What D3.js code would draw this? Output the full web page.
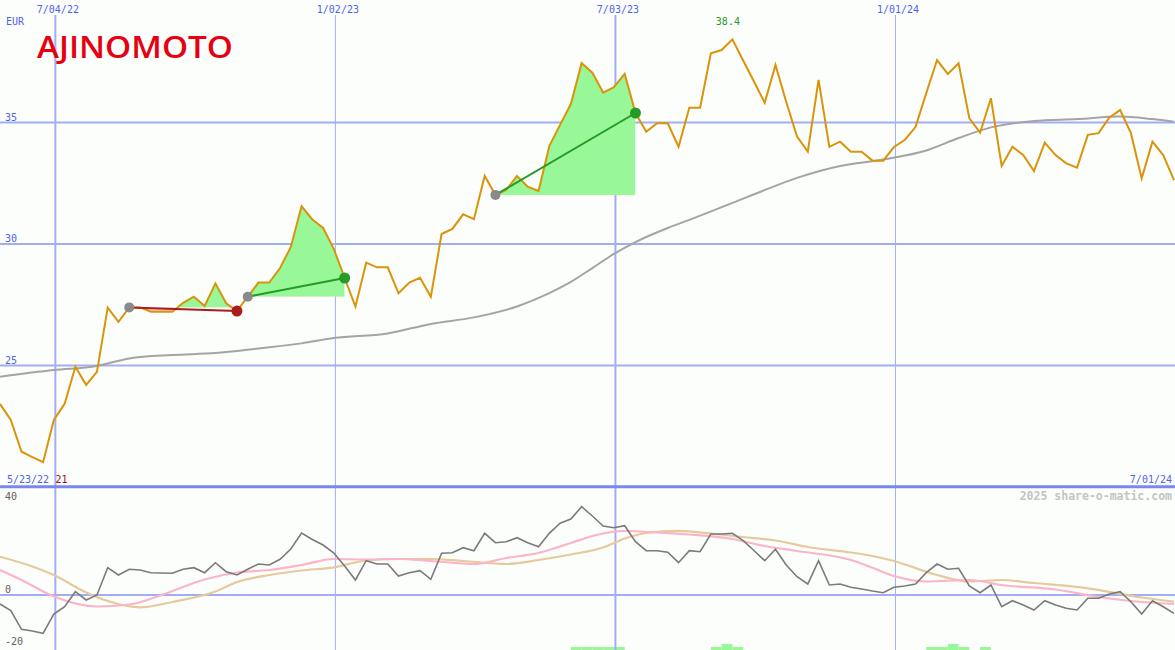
<!DOCTYPE html>
<html><head><meta charset="utf-8">
<script src="https://cdn.jsdelivr.net/npm/d3@7"></script>
<style>
html,body{margin:0;padding:0;background:#fcfefc;}
svg{display:block;}
text{font-family:"DejaVu Sans Mono",monospace;}
</style></head><body>
<svg id="c" width="1175" height="650"></svg>
<script>
// ---------- data ----------
const startDate = "2022-05-30";
const endDate = "2024-07-01";
const price = [
23.40, 22.74, 21.43, 21.21, 21.00, 22.74, 23.40, 24.93, 24.18, 24.72,
27.36, 26.78, 27.37, 27.37, 27.19, 27.19, 27.19, 27.56, 27.81, 27.43,
28.36, 27.54, 27.22, 27.81, 28.39, 28.39, 28.99, 29.86, 31.54, 30.99,
30.64, 29.77, 28.58, 27.40, 29.21, 29.02, 29.02, 27.95, 28.39, 28.59,
27.81, 30.39, 30.60, 31.20, 31.00, 32.78, 32.00, 32.20, 32.78, 32.34,
32.16, 34.01, 34.88, 35.74, 37.42, 37.03, 36.21, 36.43, 36.98, 35.37,
34.60, 34.95, 34.95, 33.98, 35.59, 35.59, 37.83, 37.96, 38.40, 37.53,
36.67, 35.79, 37.35, 35.82, 34.40, 33.78, 36.73, 33.98, 34.19, 33.78,
33.78, 33.41, 33.41, 33.97, 34.26, 34.79, 36.19, 37.55, 36.98, 37.42,
35.15, 34.56, 35.98, 33.19, 33.98, 33.64, 32.98, 34.15, 33.64, 33.30,
33.12, 34.47, 34.54, 35.19, 35.49, 34.54, 32.68, 34.19, 33.64, 32.61
];
const maWeek = [0,5,9,12,16,20,24,28,31,36,40,44,48,51,53,55,57,59,62,64,68,71,74,78,82,86,89,92,96,100,104,107,109];
const maValue = [24.52,24.79,24.96,25.27,25.41,25.49,25.68,25.89,26.11,26.30,26.69,26.96,27.41,27.96,28.42,28.99,29.57,30.06,30.64,30.97,31.67,32.20,32.70,33.19,33.46,33.83,34.34,34.78,35.04,35.12,35.23,35.12,35.01];

const oscValue = [
-3.63, -6.18, -13.28, -13.93, -14.81, -7.44, -4.66, 1.07, -2.10, -0.19,
10.23, 7.44, 9.62, 9.35, 8.32, 8.21, 8.09, 9.62, 10.23, 8.32,
12.14, 8.70, 7.44, 9.62, 11.64, 11.26, 13.44, 17.37, 23.47, 20.99,
18.89, 15.84, 10.88, 5.53, 12.90, 11.64, 11.64, 7.06, 8.32, 9.08,
5.80, 15.73, 15.95, 17.86, 16.72, 23.36, 19.77, 20.15, 21.68, 19.77,
18.24, 23.36, 27.18, 28.82, 33.51, 29.96, 26.15, 25.50, 26.26, 20.15,
16.72, 16.72, 16.11, 12.14, 16.72, 16.34, 23.09, 23.09, 23.36, 20.53,
16.79, 12.90, 17.25, 11.26, 6.79, 4.01, 12.90, 3.63, 4.01, 2.75,
2.10, 1.34, 0.69, 2.75, 3.24, 4.01, 8.32, 11.64, 9.62, 10.00,
3.24, 0.69, 3.63, -4.66, -2.37, -4.01, -5.92, -2.37, -4.01, -5.27,
-5.92, -1.45, -1.45, 0.19, 1.07, -2.75, -7.44, -2.37, -4.66, -7.18
];
const pinkWeek = [0,2,5,9,12,15,19,22,25,28,31,34,37,40,44,47,50,53,55,58,61,64,68,71,74,79,81,83,86,90,93,98,102,105,109];
const pinkValue = [9.35,5.53,-0.76,-4.58,-3.82,-0.19,5.73,8.40,9.35,11.26,13.55,13.36,13.55,12.79,11.64,13.93,15.84,19.66,22.33,24.24,23.66,22.90,21.18,18.51,16.60,13.17,10.23,7.06,4.96,5.53,3.63,1.91,-0.95,-2.48,-3.63];
const tanWeek = [0,3,5,8,10,13,16,20,22,25,28,31,34,37,40,43,47,50,53,56,58,60,63,66,69,72,75,79,81,83,87,90,93,96,101,106,109];
const tanValue = [14.43,10.69,7.44,0.76,-2.48,-4.89,-2.86,1.15,4.77,7.44,9.16,10.38,12.98,13.55,13.55,12.79,11.64,13.17,15.27,17.94,21.37,23.47,24.31,23.28,21.95,20.61,18.13,16.03,14.69,12.79,7.44,4.96,5.53,4.39,2.37,-1.15,-2.75];
const histWeek = [53,54,55,56,57,66,67,68,86,87,88,89,91];
const histValue = [1,1,1,1,1,1,2,1,1,1,2,1,1];

const tradeEntryWeek = [12, 23, 46];
const tradeExitWeek = [22, 32, 59];

const priceTicks = [25, 30, 35];
const oscTicks = [40, 0, -20];
const dateTicks = ["2022-07-04", "2023-01-02", "2023-07-03", "2024-01-01"];
const dateTickLabels = ["7/04/22", "1/02/23", "7/03/23", "1/01/24"];
const currencyLabel = "EUR";
const startLabel = "5/23/22";
const countLabel = "21";
const endLabel = "7/01/24";
const creditLabel = "2025 share-o-matic.com";
const logoLabel = "AJINOMOTO";

// ---------- setup ----------
const W = 1175, H = 650, SPLIT = 487;
const parse = d3.timeParse("%Y-%m-%d");
const dates = d3.timeMonday.range(parse(startDate), d3.timeDay.offset(parse(endDate), 1));
const svg = d3.select("#c");

const x = d3.scaleTime().domain([parse(startDate), parse(endDate)]).range([0, 1174]);
const yP = d3.scaleLinear().domain([25, 35]).range([365, 122]);
const yO = d3.scaleLinear().domain([0, 40]).range([594.5, 489.7]);
const yH = d3.scaleLinear().domain([0, 1]).range([H, H - 3]);

const C = {
  grid: "#a3adf2", sep: "#7b87ee", label: "#5064e8",
  price: "#d9940a", ma: "#a4a4a4", osc: "#7a7a7a", pink: "#fbb4c8", tan: "#e4ca9c",
  green: "#98f898", pinkFill: "#fcc4cc", gLine: "#259a25", rLine: "#a81c1c", dotGray: "#8a8a8a"
};

svg.append("rect").attr("width", W).attr("height", H).attr("fill", "#fcfefc");

const defs = svg.append("defs");
defs.append("clipPath").attr("id", "clipMain").append("rect").attr("x", 0).attr("y", 0).attr("width", W).attr("height", SPLIT);
defs.append("clipPath").attr("id", "clipOsc").append("rect").attr("x", 0).attr("y", SPLIT).attr("width", W).attr("height", H - SPLIT);

// histogram bars
const histData = histWeek.map((w, i) => ({ w, v: histValue[i] }));
svg.append("g").selectAll("rect").data(histData).join("rect")
  .attr("x", d => x(dates[d.w]))
  .attr("width", d => x(dates[d.w + 1]) - x(dates[d.w]))
  .attr("y", d => yH(d.v))
  .attr("height", d => yH(0) - yH(d.v))
  .attr("fill", C.green);

// horizontal gridlines (price) via axis
const gy = svg.append("g").call(d3.axisLeft(yP).tickValues(priceTicks).tickSize(-W).tickFormat(d3.format("d")));
gy.select(".domain").remove();
gy.selectAll(".tick line").attr("stroke", C.grid).attr("stroke-width", 2);
gy.selectAll(".tick text").attr("x", 5).attr("dy", -2).attr("y", 0)
  .attr("text-anchor", "start").attr("fill", C.label).attr("font-size", 10)
  .attr("font-family", "DejaVu Sans Mono");

// osc zero line
const go = svg.append("g").call(d3.axisLeft(yO).tickValues([0]).tickSize(-W).tickFormat(""));
go.select(".domain").remove();
go.selectAll(".tick line").attr("stroke", C.grid).attr("stroke-width", 2);

// vertical gridlines via axis
const tickDates = dateTicks.map(parse);
const gx = svg.append("g").attr("transform", "translate(1,0)")
  .call(d3.axisTop(x).tickValues(tickDates).tickSize(0).tickFormat((d, i) => dateTickLabels[i]));
gx.select(".domain").remove();
gx.selectAll(".tick text").attr("y", 13).attr("dy", 0).attr("dx", 2.5)
  .attr("fill", C.label).attr("font-size", 10).attr("font-family", "DejaVu Sans Mono");
gx.selectAll(".tick").append("line")
  .attr("y1", 15).attr("y2", H)
  .attr("stroke", C.grid)
  .attr("stroke-width", (d, i) => i % 2 === 0 ? 2 : 1);

// ---------- main panel ----------
const main = svg.append("g").attr("clip-path", "url(#clipMain)");

// moving average
const maData = maWeek.map((w, i) => ({ d: dates[w], v: maValue[i] }));
main.append("path").datum(maData)
  .attr("fill", "none").attr("stroke", C.ma).attr("stroke-width", 2)
  .attr("d", d3.line().x(d => x(d.d)).y(d => yP(d.v)).curve(d3.curveMonotoneX));

// trade fills
const priceData = dates.map((d, i) => ({ d, v: price[i] }));
tradeEntryWeek.forEach((e, k) => {
  const xe = tradeExitWeek[k];
  const base = yP(price[e]);
  const seg = priceData.slice(e, xe + 1);
  const x0 = x(dates[e]), x1 = x(dates[xe]);
  defs.append("clipPath").attr("id", "up" + k).append("rect")
    .attr("x", x0).attr("y", 0).attr("width", x1 - x0).attr("height", base);
  defs.append("clipPath").attr("id", "dn" + k).append("rect")
    .attr("x", x0).attr("y", base).attr("width", x1 - x0).attr("height", SPLIT - base);
  const ar = d3.area().x(d => x(d.d)).y0(base).y1(d => yP(d.v));
  main.append("path").datum(seg).attr("clip-path", `url(#up${k})`).attr("fill", C.green).attr("d", ar);
  main.append("path").datum(seg).attr("clip-path", `url(#dn${k})`).attr("fill", C.pinkFill).attr("d", ar);
});

// price line
main.append("path").datum(priceData)
  .attr("fill", "none").attr("stroke", C.price).attr("stroke-width", 2).attr("stroke-linejoin", "miter")
  .attr("d", d3.line().x(d => x(d.d)).y(d => yP(d.v)));

// trade lines and dots
tradeEntryWeek.forEach((e, k) => {
  const xe = tradeExitWeek[k];
  const win = price[xe] >= price[e];
  main.append("line")
    .attr("x1", x(dates[e])).attr("y1", yP(price[e]))
    .attr("x2", x(dates[xe])).attr("y2", yP(price[xe]))
    .attr("stroke", win ? C.gLine : C.rLine).attr("stroke-width", 2);
  main.append("circle").attr("cx", x(dates[e])).attr("cy", yP(price[e])).attr("r", 5).attr("fill", C.dotGray);
  main.append("circle").attr("cx", x(dates[xe])).attr("cy", yP(price[xe])).attr("r", 5.5).attr("fill", win ? C.gLine : C.rLine);
});

// max label
const iMax = d3.maxIndex(price);
svg.append("text").attr("x", x(dates[iMax]) - 4.5).attr("y", 25).attr("text-anchor", "middle")
  .attr("fill", C.gLine).attr("font-size", 10).text(d3.format(".1f")(price[iMax]));

svg.append("text").attr("x", 6).attr("y", 25).attr("fill", C.label).attr("font-size", 10).text(currencyLabel);

// logo
svg.append("text").attr("x", 37).attr("y", 57.5)
  .attr("fill", "#e60012").attr("font-size", 31)
  .attr("font-weight", 600)
  .attr("textLength", 196).attr("lengthAdjust", "spacingAndGlyphs")
  .style("font-family", "'Open Sans', 'Liberation Sans', Arial, sans-serif")
  .text(logoLabel);

// ---------- oscillator panel ----------
const osc = svg.append("g").attr("clip-path", "url(#clipOsc)");
const tanData = tanWeek.map((w, i) => ({ d: dates[w], v: tanValue[i] }));
const pinkData = pinkWeek.map((w, i) => ({ d: dates[w], v: pinkValue[i] }));
const oscData = dates.map((d, i) => ({ d, v: oscValue[i] }));
osc.append("path").datum(tanData).attr("fill", "none").attr("stroke", C.tan).attr("stroke-width", 2.2)
  .attr("d", d3.line().x(d => x(d.d)).y(d => yO(d.v)).curve(d3.curveMonotoneX));
osc.append("path").datum(pinkData).attr("fill", "none").attr("stroke", C.pink).attr("stroke-width", 2.2)
  .attr("d", d3.line().x(d => x(d.d)).y(d => yO(d.v)).curve(d3.curveMonotoneX));
osc.append("path").datum(oscData).attr("fill", "none").attr("stroke", C.osc).attr("stroke-width", 1.6)
  .attr("d", d3.line().x(d => x(d.d)).y(d => yO(d.v)));

svg.append("g").selectAll("text").data(oscTicks).join("text")
  .attr("x", 5).attr("y", d => Math.max(yO(d) - 1.5, SPLIT + 12.5))
  .attr("fill", "#606060").attr("font-size", 10).text(d => d);

// separator & bottom labels
svg.append("line").attr("x1", 0).attr("x2", W).attr("y1", 486.7).attr("y2", 486.7)
  .attr("stroke", C.sep).attr("stroke-width", 3);
svg.append("text").attr("x", 7).attr("y", 483).attr("fill", C.label).attr("font-size", 10).text(startLabel);
svg.append("text").attr("x", 55.5).attr("y", 483).attr("fill", "#a01010").attr("font-size", 10).text(countLabel);
svg.append("text").attr("x", 1172).attr("y", 483).attr("text-anchor", "end").attr("fill", C.label).attr("font-size", 10).text(endLabel);
svg.append("text").attr("x", 1172).attr("y", 500).attr("text-anchor", "end").attr("fill", "#c4c4c4")
  .attr("font-size", 11.5).attr("font-weight", "bold").text(creditLabel);
</script>
</body></html>
